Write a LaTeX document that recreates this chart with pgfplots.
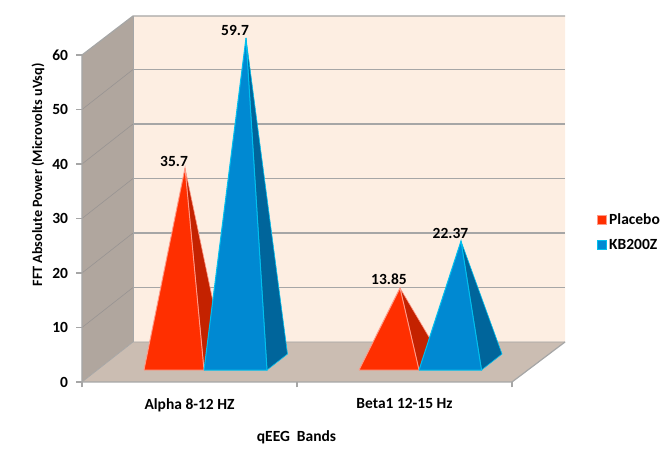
\documentclass[border=0pt]{standalone}
\usepackage{fontspec}
\setmainfont{Carlito}
\usepackage{pgfplots}
\pgfplotsset{compat=1.18}

\definecolor{wallback}{HTML}{FDEEE2}
\definecolor{wallside}{HTML}{B0A69E}
\definecolor{wallfloor}{HTML}{CBBDB2}
\definecolor{gridgrey}{HTML}{A6A6A6}
\definecolor{sidegrid}{HTML}{989492}
\definecolor{redfront}{HTML}{FF2F00}
\definecolor{redside}{HTML}{C42200}
\definecolor{rededge}{HTML}{FF9A88}
\definecolor{bluefront}{HTML}{0089D2}
\definecolor{blueside}{HTML}{00659B}
\definecolor{blueedge}{HTML}{00C0EE}

\newcommand{\chartfont}{\fontsize{15.5}{18}\selectfont\bfseries}

\begin{document}
\begin{tikzpicture}
% page is 672x465, axis origin sits at pixel (82,382)
\path[use as bounding box] (-82pt,-83pt) rectangle (590pt,382pt);
\begin{axis}[
    scale only axis,
    anchor=origin,
    at={(0pt,0pt)},
    width=483pt, height=366pt,
    xmin=82, xmax=565, ymin=0, ymax=67.16,
    clip=false,
    axis line style={draw=none},
    tick align=outside,
    tick pos=left,
    major tick length=5.5pt,
    minor tick length=5.5pt,
    tick style={gridgrey, line width=1.1pt},
    ytick={0,10,20,30,40,50,60},
    xtick={189.5,404.5},
    xticklabels={Alpha 8-12 HZ, Beta1 12-15 Hz},
    minor xtick={82,297,512},
    x tick style={draw=none},
    minor x tick style={draw=gridgrey, line width=1.1pt},
    /pgf/number format/assume math mode=true,
    tick label style={font=\chartfont},
    x tick label style={yshift=-7.5pt},
    y tick label style={xshift=-5pt},
    xlabel={qEEG\ \ Bands},
    ylabel={FFT Absolute Power (Microvolts uVsq)},
    every axis x label/.style={at={(axis cs:296.5,-10.1)},anchor=center,font=\chartfont},
    every axis y label/.style={at={(axis cs:38,38)},anchor=center,rotate=90,
        font=\fontsize{14.2}{17}\selectfont\bfseries},
    legend style={at={(axis cs:594,27.5)},anchor=west,draw=none,fill=none,
        font=\chartfont,row sep=9pt},
    legend cell align=left,
    legend image code/.code={
        \draw[#1] (0pt,-4.5pt) rectangle (9pt,4.5pt);
    },
]
% walls
\addplot[forget plot, fill=wallback, draw=none] coordinates {(133,7.34) (565,7.34) (565,67.16) (133,67.16) (133,7.34)};
\addplot[forget plot, fill=wallside, draw=none] coordinates {(82,0) (133,7.34) (133,67.16) (82,60) (82,0)};
\addplot[forget plot, fill=wallfloor, draw=none] coordinates {(82,0) (512,0) (565,7.34) (133,7.34) (82,0)};

% gridlines, side wall
\addplot[forget plot, sidegrid, line width=0.6pt] coordinates {(82,10) (133,17.34)};
\addplot[forget plot, sidegrid, line width=0.6pt] coordinates {(82,20) (133,27.34)};
\addplot[forget plot, sidegrid, line width=0.6pt] coordinates {(82,30) (133,37.34)};
\addplot[forget plot, sidegrid, line width=0.6pt] coordinates {(82,40) (133,47.34)};
\addplot[forget plot, sidegrid, line width=0.6pt] coordinates {(82,50) (133,57.34)};
% gridlines, back wall
\addplot[forget plot, gridgrey, line width=1.2pt] coordinates {(133,17.34) (565,17.34)};
\addplot[forget plot, gridgrey, line width=1.2pt] coordinates {(133,27.34) (565,27.34)};
\addplot[forget plot, gridgrey, line width=1.2pt] coordinates {(133,37.34) (565,37.34)};
\addplot[forget plot, gridgrey, line width=1.2pt] coordinates {(133,47.34) (565,47.34)};
\addplot[forget plot, gridgrey, line width=1.2pt] coordinates {(133,57.34) (565,57.34)};
\addplot[forget plot, gridgrey, line width=1.2pt] coordinates {(82,60) (133,67.16) (565,67.16)};
% axis lines and wall edges
\addplot[forget plot, gridgrey, line width=1.2pt] coordinates {(82,60) (82,0) (512,0) (565,7.34)};
\addplot[forget plot, gridgrey, line width=0.7pt] coordinates {(82,0) (133,7.34) (565,7.34)};
\addplot[forget plot, gridgrey, line width=0.7pt] coordinates {(133,7.34) (133,67.16)};

% Alpha, placebo
\addplot[forget plot, fill=redside, draw=rededge, line width=0.6pt] coordinates {(185,39.27) (204,2.2) (224,5.14) (185,39.27)};
\addplot[fill=redfront, draw=rededge, line width=0.9pt] coordinates {(144,2.2) (204,2.2) (185,39.27) (144,2.2)};
\addlegendentry{Placebo}
% Alpha, KB200Z
\addplot[forget plot, fill=blueside, draw=blueedge, line width=0.6pt] coordinates {(246,63.12) (267,2.2) (287.5,5.14) (246,63.12)};
\addplot[fill=bluefront, draw=blueedge, line width=1pt] coordinates {(204,2.2) (267,2.2) (246,63.12) (204,2.2)};
\addlegendentry{KB200Z}
% Beta1, placebo
\addplot[forget plot, fill=redside, draw=rededge, line width=0.6pt] coordinates {(400,17.25) (419,2.2) (439,5.14) (400,17.25)};
\addplot[forget plot, fill=redfront, draw=rededge, line width=0.9pt] coordinates {(359,2.2) (419,2.2) (400,17.25) (359,2.2)};
% Beta1, KB200Z
\addplot[forget plot, fill=blueside, draw=blueedge, line width=0.6pt] coordinates {(461,25.87) (481.5,2.2) (502,5.14) (461,25.87)};
\addplot[forget plot, fill=bluefront, draw=blueedge, line width=1pt] coordinates {(419,2.2) (481.5,2.2) (461,25.87) (419,2.2)};

% value labels
\addplot[forget plot, only marks, mark=none,
    nodes near coords, point meta=explicit symbolic,
    every node near coord/.style={font=\chartfont,black,anchor=center,inner sep=0pt}]
    table[meta=lab] {
    x y lab
    174 40.55 35.7
    235 64.59 59.7
    389 18.9 13.85
    450.5 27.34 22.37
};
\end{axis}
\end{tikzpicture}
\end{document}
